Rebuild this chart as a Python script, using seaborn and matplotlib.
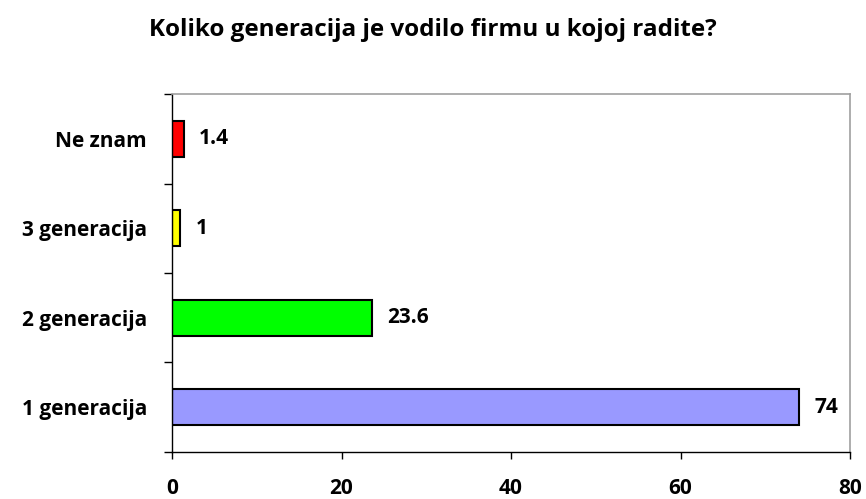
import matplotlib
matplotlib.use("Agg")
import matplotlib.pyplot as plt
import seaborn as sns
import pandas as pd

# data
categories = ["Ne znam", "3 generacija", "2 generacija", "1 generacija"]
values = [1.4, 1, 23.6, 74]
bar_colors = ["#FF0000", "#FFFF00", "#00FF00", "#9999FF"]
x_ticks = [0, 20, 40, 60, 80]

df = pd.DataFrame({"kategorija": categories, "vrijednost": values})

sns.set_style("white")
plt.rcParams["font.family"] = ["Open Sans", "DejaVu Sans"]
plt.rcParams["font.weight"] = "bold"
plt.rcParams["text.color"] = "black"
plt.rcParams["xtick.color"] = "black"
plt.rcParams["ytick.color"] = "black"

fig = plt.figure(figsize=(8.66, 4.99), dpi=100)
ax = fig.add_axes([0.1986, 0.0942, 0.783, 0.7174])

sns.barplot(
    data=df, x="vrijednost", y="kategorija", hue="kategorija",
    palette=bar_colors, order=categories, hue_order=categories,
    orient="h", width=0.4, saturation=1, edgecolor="black", linewidth=1.5,
    legend=False, ax=ax,
)

for cont in ax.containers:
    ax.bar_label(cont, fmt="%g", padding=11, fontsize=15, fontweight="bold", color="black")

ax.set_xlim(0, 80)
ax.set_ylim(3.5, -0.5)
ax.set_xticks(x_ticks)
ax.set_xticklabels([str(t) for t in x_ticks], fontsize=15, fontweight="bold")
ax.set_yticks(range(len(categories)))
ax.set_yticklabels(categories, fontsize=15, fontweight="bold")
ax.set_yticks([-0.5, 0.5, 1.5, 2.5, 3.5], minor=True)
ax.tick_params(axis="y", which="major", left=True, length=0, pad=18, labelcolor="black")
ax.tick_params(axis="y", which="minor", left=True, length=6, width=1, color="black", direction="out")
ax.tick_params(axis="x", which="major", bottom=True, length=5, width=1, color="black",
               direction="out", pad=14, labelcolor="black")
ax.set_xlabel("")
ax.set_ylabel("")

for side in ["left", "bottom"]:
    ax.spines[side].set_color("black")
    ax.spines[side].set_linewidth(1)
for side in ["top", "right"]:
    ax.spines[side].set_color("#A0A0A0")
    ax.spines[side].set_linewidth(1.2)

fig.text(0.5, 0.94, "Koliko generacija je vodilo firmu u kojoj radite?",
         ha="center", va="center", fontsize=17.5, fontweight="bold", color="black")

fig.savefig("out.png", dpi=100)
